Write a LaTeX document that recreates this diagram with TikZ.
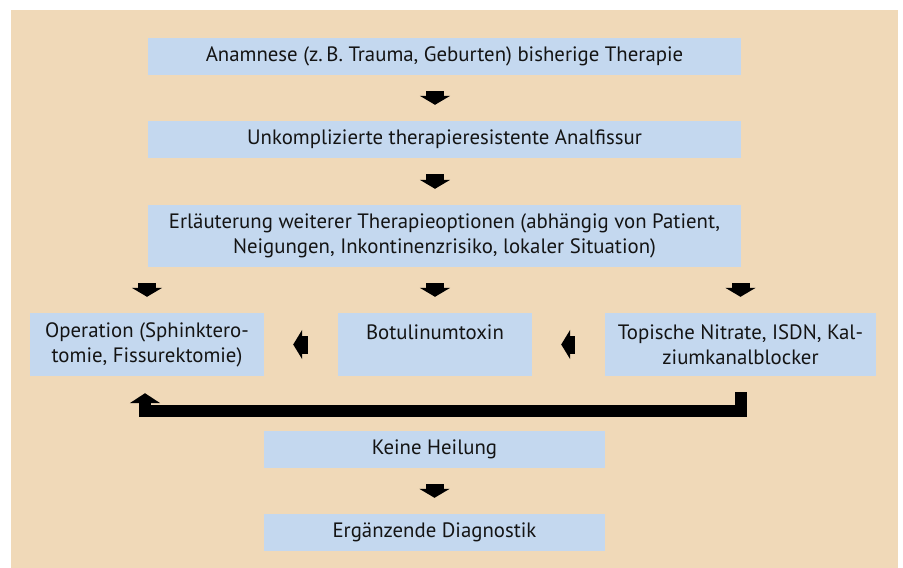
\documentclass[tikz,border=0pt]{standalone}
\usepackage{fontspec}
\setmainfont{PT Sans}
\usetikzlibrary{arrows.meta}
\definecolor{beige}{RGB}{240,217,184}
\definecolor{boxblue}{RGB}{196,216,239}
\definecolor{txt}{RGB}{20,20,20}
\begin{document}
\begin{tikzpicture}[x=1pt,y=-1pt,
  box/.style={rectangle,fill=boxblue,inner sep=0pt,align=center,text=txt,
    font=\fontsize{20.8}{25}\selectfont},
  flow/.style={line width=18pt,-{Triangle[width=30pt,length=9pt]},shorten <=16pt,shorten >=16pt},
  side/.style={line width=18pt,-{Triangle[width=29pt,length=9pt]},shorten <=30pt,shorten >=29pt},
  back/.style={line width=12pt,line join=miter,-{Triangle[width=30pt,length=10pt]},shorten <=16pt,shorten >=17pt}]
\useasboundingbox (0,0) rectangle (903,568);
\fill[white] (0,0) rectangle (903,568);
\fill[beige] (11,10) rectangle (898,568);
\node[box,minimum width=593pt,minimum height=37pt] (b1) at (444.5,56.5) {Anamnese (z.\,B. Trauma, Geburten) bisherige Therapie};
\node[box,minimum width=593pt,minimum height=37pt] (b2) at (444.5,139.5) {Unkomplizierte therapieresistente Analfissur};
\node[box,minimum width=593pt,minimum height=62pt] (b3) at (444.5,236) {Erläuterung weiterer Therapieoptionen (abhängig von Patient,\\Neigungen, Inkontinenzrisiko, lokaler Situation)};
\node[box,minimum width=234pt,minimum height=63pt] (op) at (147,344.5) {Operation (Sphinktero-\\tomie, Fissurektomie)};
\node[box,minimum width=194pt,minimum height=63pt] (bot) at (435,344.5) {Botulinumtoxin\\\mbox{}};
\node[box,minimum width=271pt,minimum height=63pt] (topi) at (740.5,344.5) {Topische Nitrate, ISDN, Kal-\\ziumkanalblocker};
\node[box,minimum width=341pt,minimum height=37pt] (keine) at (434.5,449.5) {Keine Heilung};
\node[box,minimum width=341pt,minimum height=37pt] (erg) at (434.5,532.5) {Ergänzende Diagnostik};
\draw[flow] (b1.south -| bot.north) -- (b2.north -| bot.north);
\draw[flow] (b2.south -| bot.north) -- (b3.north -| bot.north);
\draw[flow] (b3.south -| op.north) -- (op.north);
\draw[flow] (b3.south -| bot.north) -- (bot.north);
\draw[flow] (b3.south -| topi.north) -- (topi.north);
\draw[side] (bot.west) -- (op.east);
\draw[side] (topi.west) -- (bot.east);
\coordinate (barR) at (740.5,410.5);
\coordinate (barL) at (145,410.5);
\draw[back] (topi.south) -- (barR) -- (barL) -- (op.south -| barL);
\draw[flow] (keine.south) -- (erg.north);
\end{tikzpicture}
\end{document}
